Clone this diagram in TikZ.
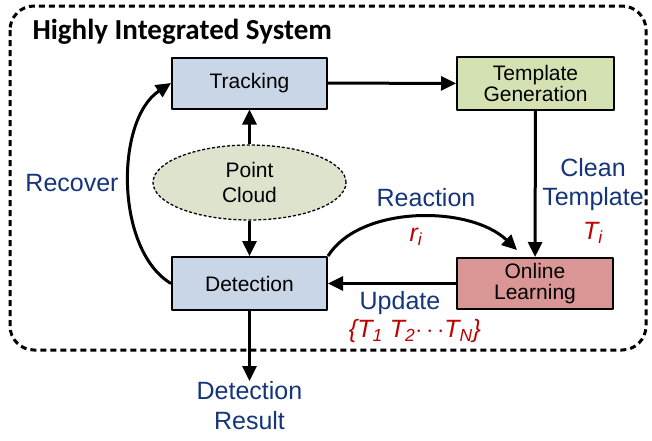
\documentclass[tikz,border=0pt]{standalone}
\usepackage{fontspec}
\setmainfont{Liberation Sans}
\newfontfamily\titlefont{Carlito}
\usetikzlibrary{shapes.geometric,arrows.meta}
\definecolor{trackblue}{HTML}{C9D6E8}
\definecolor{tplgreen}{HTML}{D4E2B3}
\definecolor{learnred}{HTML}{D99694}
\definecolor{cloudgreen}{HTML}{DDE3CD}
\definecolor{labelblue}{HTML}{15357A}
\definecolor{mathred}{HTML}{C00000}
\tikzset{
  procbox/.style={draw=black, line width=2pt, minimum width=155pt, minimum height=51pt,
    align=center, font=\fontsize{21}{23}\selectfont, inner sep=0pt},
  lbl/.style={text=labelblue, align=center, font=\fontsize{25}{30}\selectfont},
  mlbl/.style={text=mathred, font=\fontsize{25}{29}\selectfont\itshape},
  flow/.style={->, line width=3pt}
}
\begin{document}
\begin{tikzpicture}[x=1pt, y=-1pt, line join=round, >={Triangle[length=15pt,width=14pt]}]
\useasboundingbox (0,0) rectangle (652,440);
% system frame
\draw[line width=3pt, dash pattern=on 6pt off 4pt, rounded corners=24pt] (10,6) rectangle (646,350);
\node[anchor=west, font=\titlefont\bfseries\fontsize{29}{31}\selectfont] (title) at (29,32) {Highly Integrated System};
% blocks
\node[procbox, fill=trackblue] (track) at (249.5,83) {Tracking};
\node[procbox, fill=tplgreen, minimum width=157pt, minimum height=53pt] (tgen) at (535.5,83.5) {Template\\[-2pt]Generation};
\node[ellipse, draw=black, line width=1.3pt, dash pattern=on 3pt off 2pt, fill=cloudgreen,
  minimum width=193pt, minimum height=75pt, align=center, inner sep=0pt,
  font=\fontsize{21}{25}\selectfont] (cloud) at (249.5,182.5) {Point\\Cloud};
\node[procbox, fill=trackblue, minimum height=53pt] (det) at (249.5,283.5) {Detection};
\node[procbox, fill=learnred, minimum width=156pt] (learn) at (535,283.5) {Online\\[-2pt]Learning};
\node[lbl, anchor=north, inner sep=0pt] (result) at (249.5,381) {Detection\\Result};
\coordinate (react) at (517,250);
% connectors
\draw[flow] (track) -- (tgen);
\draw[flow] (cloud) -- (track);
\draw[flow] (cloud) -- (det);
\draw[flow] (tgen) -- (learn);
\draw[flow] (learn) -- (det);
\draw[flow] (det) -- (result);
\draw[flow] (det.west) .. controls (115,250) and (115,120) .. (track.west);
\draw[flow] (det.north east) .. controls (360,205) and (470,205) .. (react);
% labels
\node[lbl] (recover) at (72,183) {Recover};
\node[lbl] (reaction) at (426,198) {Reaction};
\node[mlbl] (ri) at (416,237) {r\textsubscript{i}};
\node[lbl, font=\fontsize{25}{29}\selectfont] (clean) at (593,184.5) {Clean\\Template};
\node[mlbl] (ti) at (593,233) {T\textsubscript{i}};
\node[lbl] (update) at (400,303) {Update};
\node[mlbl] (tset) at (415,331) {\{T\textsubscript{1} T\textsubscript{2}$\cdots$T\textsubscript{N}\}};
\end{tikzpicture}
\end{document}
